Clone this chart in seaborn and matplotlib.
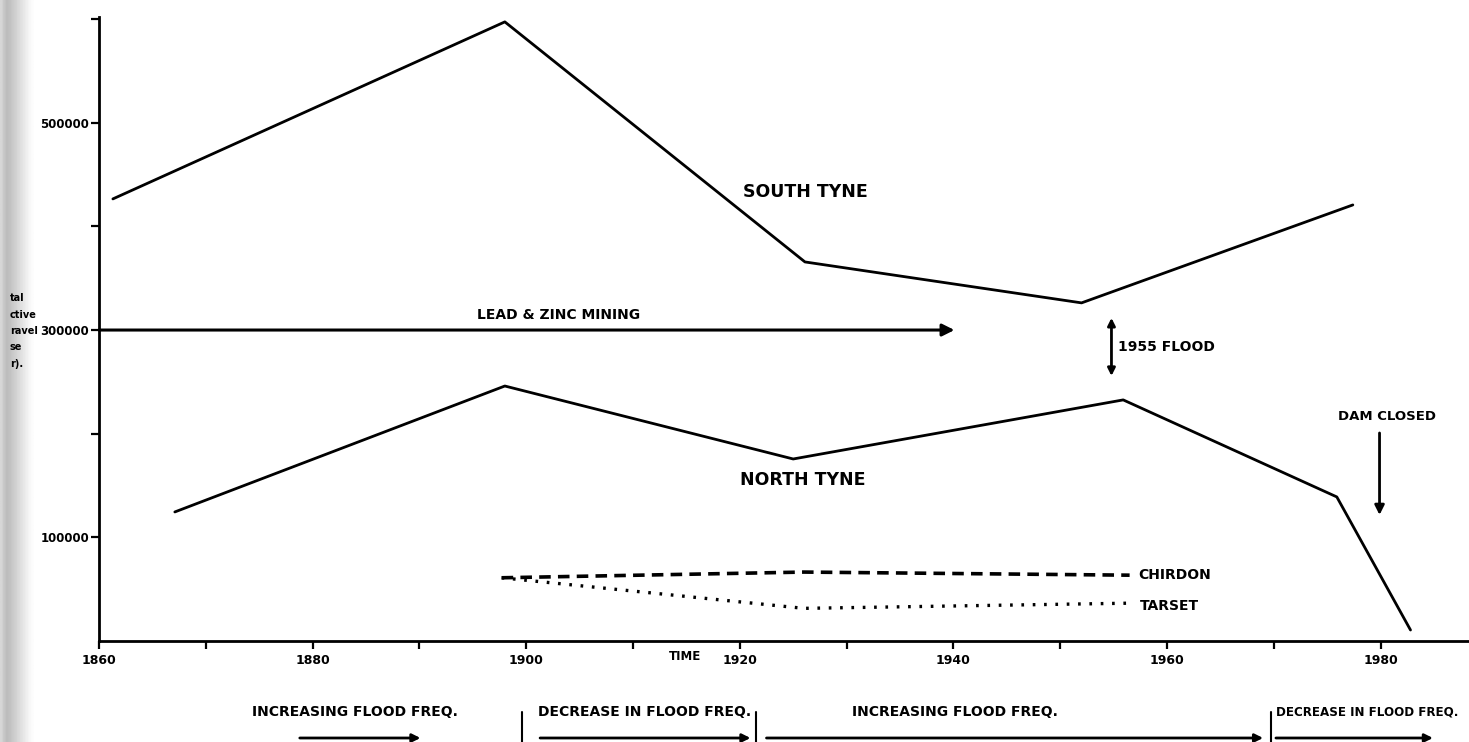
import numpy as np
import pandas as pd
import matplotlib
matplotlib.use("Agg")
import matplotlib.pyplot as plt
import seaborn as sns

# ---------------- data ----------------
south_years = [1861.3, 1898.0, 1926.1, 1952.0, 1977.4]
south_vals = [426500, 597300, 365700, 326200, 420700]

north_years = [1867.1, 1898.0, 1925.0, 1955.9, 1975.9, 1982.8]
north_vals = [124500, 246000, 175600, 232600, 139000, 10600]

chirdon_years = [1897.7, 1926.0, 1956.5]
chirdon_vals = [61000, 66500, 63500]

tarset_years = [1897.7, 1926.0, 1956.5]
tarset_vals = [61000, 31500, 36500]

x_major = [1860, 1880, 1900, 1920, 1940, 1960, 1980]
x_minor = [1870, 1890, 1910, 1930, 1950, 1970]
y_major = [100000, 300000, 500000]
y_minor = [200000, 400000, 600000]

ylabel_fragments = ["tal", "ctive", "ravel", "se", "r)."]

periods = ["INCREASING FLOOD FREQ.", "DECREASE IN FLOOD FREQ.",
           "INCREASING FLOOD FREQ.", "DECREASE IN FLOOD FREQ."]
period_text_x = [1874.3, 1901.1, 1930.5, 1970.2]
period_arrows = [(1878.8, 1890.1), (1901.3, 1921.0), (1922.5, 1969.0), (1970.2, 1984.9)]
period_bars = [1899.6, 1921.5, 1969.7]

# ---------------- figure ----------------
sns.set_theme(style="ticks")
plt.rcParams['font.family'] = ['DejaVu Sans']

W, H = 1469, 742
fig = plt.figure(figsize=(W / 100, H / 100), dpi=100)
fig.patch.set_facecolor("white")

# scanner shadow on left edge
shadow = fig.add_axes([0, 0, 34 / W, 1], zorder=0)
grad = np.array([[0.84, 0.78, 0.74, 0.76, 0.79, 0.82, 0.85, 0.88, 0.91, 0.94, 0.97, 0.99]])
shadow.imshow(np.repeat(grad, 10, axis=0), cmap="gray", vmin=0, vmax=1,
              aspect="auto", extent=[0, 1, 0, 1])
shadow.axis("off")

x0, x1 = 1860, 1860 + (W - 99) / 10.68
ax = fig.add_axes([99 / W, 1 - 641 / H, 1 - 99 / W, (641 - 17) / H], zorder=1)
ax.set_facecolor("none")
ax.set_xlim(x0, x1)
ax.set_ylim(0, 602000)

lw = 2.0
sns.lineplot(x=south_years, y=south_vals, ax=ax, color="black", lw=lw, estimator=None, sort=False)
sns.lineplot(x=north_years, y=north_vals, ax=ax, color="black", lw=lw, estimator=None, sort=False)
sns.lineplot(x=chirdon_years, y=chirdon_vals, ax=ax, color="black", lw=2.6,
             estimator=None, sort=False)
ax.lines[-1].set_dashes([3.2, 2.0])
sns.lineplot(x=tarset_years, y=tarset_vals, ax=ax, color="black", lw=2.4,
             estimator=None, sort=False)
ax.lines[-1].set_dashes([0.8, 2.6])

# spines / ticks
sns.despine(ax=ax, top=True, right=True)
for s in ("left", "bottom"):
    ax.spines[s].set_linewidth(2.0)
    ax.spines[s].set_color("black")
ax.set_xticks(x_major)
ax.set_xticks(x_minor, minor=True)
ax.set_xticklabels([str(v) for v in x_major], fontsize=9, fontweight="bold")
ax.set_yticks(y_major)
ax.set_yticks(y_minor, minor=True)
ax.set_yticklabels([str(v) for v in y_major], fontsize=8.5, fontweight="bold")
ax.tick_params(axis="both", which="both", direction="out", length=6, width=1.6,
               color="black", labelcolor="black")
ax.tick_params(axis="x", which="major", pad=3)
ax.tick_params(axis="y", which="major", pad=1)
ax.set_xlabel("")
ax.set_ylabel("")

# labels on the chart
B = dict(color="black", fontweight="bold")
ax.text(1920.3, 433300, "SOUTH TYNE", ha="left", va="center", fontsize=12.5, **B)
ax.text(1920.0, 155400, "NORTH TYNE", ha="left", va="center", fontsize=12.5, **B)
ax.text(1957.3, 63700, "CHIRDON", ha="left", va="center", fontsize=10, **B)
ax.text(1957.5, 33800, "TARSET", ha="left", va="center", fontsize=10, **B)
ax.text(1895.4, 314600, "LEAD & ZINC MINING", ha="left", va="center", fontsize=10, **B)
ax.annotate("", xy=(1940.1, 300000), xytext=(1860, 300000),
            arrowprops=dict(arrowstyle="-|>", color="black", lw=2.2,
                            mutation_scale=18, shrinkA=0, shrinkB=0))
ax.annotate("", xy=(1954.8, 311700), xytext=(1954.8, 255700),
            arrowprops=dict(arrowstyle="<|-|>", color="black", lw=2.0,
                            mutation_scale=11, shrinkA=0, shrinkB=0))
ax.text(1955.4, 283700, "1955 FLOOD", ha="left", va="center", fontsize=10, **B)
ax.text(1980.6, 216200, "DAM CLOSED", ha="center", va="center", fontsize=9.5, **B)
ax.annotate("", xy=(1979.9, 121600), xytext=(1979.9, 200700),
            arrowprops=dict(arrowstyle="-|>", color="black", lw=2.0,
                            mutation_scale=14, shrinkA=0, shrinkB=0))
ax.text(1914.9, -0.015, "TIME", transform=ax.get_xaxis_transform(), ha="center",
        va="top", fontsize=8.5, **B)

# flood-frequency periods under the axis
tr = ax.get_xaxis_transform()
y_txt = (641 - 712) / (641 - 17)
y_arr = (641 - 738) / (641 - 17)
period_sizes = [10, 10, 10, 8.6]
for label, xt, fs in zip(periods, period_text_x, period_sizes):
    ax.text(xt, y_txt, label, transform=tr, ha="left", va="center",
            fontsize=fs, clip_on=False, **B)
for a, b in period_arrows:
    ax.annotate("", xy=(b, y_arr), xytext=(a, y_arr), xycoords=tr, textcoords=tr,
                arrowprops=dict(arrowstyle="-|>", color="black", lw=2.0,
                                mutation_scale=12, shrinkA=0, shrinkB=0),
                annotation_clip=False)
for xb in period_bars:
    ax.plot([xb, xb], [(641 - 712) / 624, (641 - 745) / 624], transform=tr,
            color="black", lw=1.5, clip_on=False)

# truncated y-axis title fragments (cut off by the scan edge)
for i, frag in enumerate(ylabel_fragments):
    fig.text(10 / W, 1 - (298 + i * 16.5) / H, frag, ha="left", va="center",
             fontsize=7, fontweight="bold", color="black", zorder=5)

fig.savefig("out.png", dpi=100, facecolor="white")
